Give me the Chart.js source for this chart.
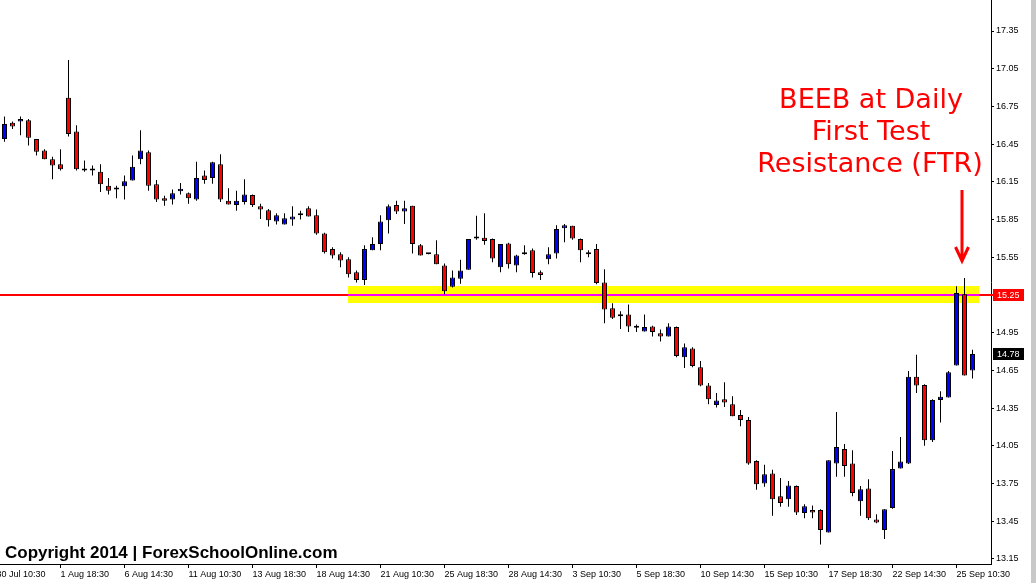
<!DOCTYPE html>
<html>
<head>
<meta charset="utf-8">
<title>BEEB H4</title>
<script src="https://cdn.jsdelivr.net/npm/chart.js@4.4.1/dist/chart.umd.min.js"></script>
<style>
html, body { margin: 0; padding: 0; background: #fff; }
</style>
</head>
<body>
<canvas id="myChart" width="1036" height="583"></canvas>
<script>
// candles, one per bar
var opens = [16.49,16.62,16.63,16.64,16.49,16.40,16.33,16.29,16.82,16.55,16.245,16.24,16.23,16.12,16.10,16.115,16.16,16.33,16.385,16.13,
  16.02,16.01,16.075,16.06,16.01,16.20,16.18,16.29,16.00,15.965,15.99,16.045,15.955,15.925,15.835,15.81,15.85,15.885,15.94,15.885,
  15.74,15.615,15.575,15.535,15.43,15.37,15.605,15.655,15.845,15.965,15.915,15.96,15.645,15.58,15.575,15.485,15.315,15.38,15.45,15.70,
  15.705,15.695,15.47,15.66,15.485,15.575,15.605,15.43,15.535,15.58,15.78,15.80,15.695,15.59,15.615,15.35,15.145,15.08,15.095,14.99,
  14.96,15.00,14.945,14.92,14.995,14.755,14.825,14.675,14.53,14.375,14.42,14.38,14.295,14.255,13.93,13.75,13.83,13.65,13.625,13.73,
  13.515,13.54,13.54,13.36,13.91,14.025,13.91,13.61,13.71,13.465,13.38,13.555,13.87,13.91,14.60,14.535,14.095,14.415,14.435,14.69,
  15.255,14.65];
var highs = [16.67,16.63,16.67,16.65,16.49,16.41,16.35,16.41,17.12,16.60,16.32,16.28,16.29,16.18,16.12,16.20,16.36,16.56,16.40,16.165,
  16.04,16.09,16.14,16.065,16.31,16.24,16.31,16.37,16.10,16.08,16.17,16.05,15.975,15.935,15.90,15.90,15.955,15.92,15.955,15.93,
  15.745,15.63,15.59,15.55,15.445,15.645,15.71,15.885,15.97,16.00,16.00,15.96,15.655,15.58,15.685,15.50,15.445,15.53,15.695,15.88,
  15.90,15.70,15.655,15.665,15.57,15.645,15.62,15.445,15.63,15.805,15.815,15.80,15.70,15.605,15.655,15.455,15.185,15.12,15.175,15.015,
  15.095,15.005,14.975,15.025,15.00,14.865,14.835,14.725,14.55,14.47,14.555,14.445,14.335,14.28,13.935,13.90,13.86,13.795,13.77,13.735,
  13.585,13.575,13.545,13.935,14.32,14.065,14.015,13.73,13.785,13.505,13.545,14.01,14.12,14.645,14.775,14.54,14.42,14.485,14.645,15.32,
  15.385,14.815];
var lows = [16.47,16.57,16.52,16.44,16.36,16.33,16.17,16.24,16.51,16.24,16.23,16.20,16.07,16.05,16.02,16.01,16.16,16.29,16.08,15.99,
  15.96,15.97,16.05,15.975,16.00,16.135,16.135,15.99,15.97,15.92,15.97,15.95,15.855,15.795,15.81,15.81,15.80,15.85,15.875,15.73,
  15.58,15.54,15.47,15.39,15.35,15.33,15.605,15.605,15.74,15.895,15.815,15.58,15.565,15.575,15.495,15.255,15.31,15.34,15.45,15.69,
  15.65,15.51,15.43,15.46,15.43,15.57,15.39,15.37,15.495,15.54,15.67,15.69,15.51,15.55,15.335,15.025,15.06,14.98,14.955,14.955,
  14.96,14.92,14.88,14.92,14.755,14.67,14.675,14.525,14.38,14.355,14.36,14.285,14.205,13.90,13.70,13.725,13.495,13.565,13.565,13.50,
  13.475,13.475,13.265,13.36,13.805,13.805,13.65,13.495,13.46,13.435,13.31,13.55,13.87,13.905,14.47,14.05,14.08,14.235,14.435,14.69,
  14.61,14.585];
var closes = [16.61,16.59,16.65,16.50,16.39,16.33,16.28,16.25,16.53,16.25,16.24,16.255,16.13,16.08,16.09,16.155,16.27,16.40,16.12,16.01,
  16.00,16.06,16.095,16.02,16.18,16.165,16.305,16.01,15.97,16.00,16.05,15.965,15.93,15.845,15.885,15.86,15.875,15.885,15.875,15.74,
  15.59,15.565,15.525,15.415,15.37,15.615,15.655,15.835,15.955,15.915,15.94,15.655,15.565,15.575,15.495,15.28,15.39,15.445,15.695,15.70,
  15.68,15.54,15.655,15.495,15.565,15.59,15.425,15.41,15.575,15.775,15.805,15.70,15.605,15.575,15.345,15.135,15.07,15.095,15.00,14.99,
  14.995,14.955,14.92,15.00,14.765,14.835,14.685,14.53,14.42,14.41,14.395,14.285,14.255,13.91,13.745,13.825,13.625,13.595,13.735,13.52,
  13.57,13.52,13.38,13.935,14.04,13.89,13.675,13.705,13.475,13.44,13.545,13.865,13.925,14.60,14.53,14.095,14.415,14.44,14.635,15.265,
  14.61,14.78];

// time axis: bar index of each label and its text
var timeIdx = [-1, 7, 15, 23, 31, 39, 47, 55, 63, 71, 79, 87, 95, 103, 111, 119];
var timeLabels = ['30 Jul 10:30', '1 Aug 18:30', '6 Aug 14:30', '11 Aug 10:30', '13 Aug 18:30', '18 Aug 14:30',
  '21 Aug 10:30', '25 Aug 18:30', '28 Aug 14:30', '3 Sep 10:30', '5 Sep 18:30', '10 Sep 14:30',
  '15 Sep 10:30', '17 Sep 18:30', '22 Sep 14:30', '25 Sep 10:30'];
var priceTicks = [13.15, 13.45, 13.75, 14.05, 14.35, 14.65, 14.95, 15.25, 15.55, 15.85, 16.15, 16.45, 16.75, 17.05, 17.35];

// resistance line and zone
var levelPrice = 15.25;
var zoneFrom = 42.94, zoneTo = 121.8, zoneTop = 15.32, zoneBottom = 15.185;

var xMin = -0.5625, xMax = xMin + 991 / 8;
var yMin = 13.1102, yMax = 17.5966;

var wicks = [], bodies = [], bodyColors = [];
for (var i = 0; i < opens.length; i++) {
    wicks.push({ x: i, y: [lows[i], highs[i]] });
    bodies.push({ x: i, y: [opens[i], closes[i]] });
    bodyColors.push(closes[i] > opens[i] ? '#0000ff' : '#ff0000');
}

var overlay = {
    id: 'overlay',
    beforeDraw: function (chart) {
        var c = chart.ctx;
        c.save();
        c.fillStyle = '#ffffff';
        c.fillRect(0, 0, chart.width, chart.height);
        c.fillStyle = '#c8c8c8';
        c.fillRect(1031, 0, 5, chart.height);
        c.restore();
    },
    beforeDatasetsDraw: function (chart) {
        var c = chart.ctx, xs = chart.scales.x, ys = chart.scales.y;
        var x0 = Math.round(xs.getPixelForValue(zoneFrom)), x1 = Math.round(xs.getPixelForValue(zoneTo));
        var y0 = Math.round(ys.getPixelForValue(zoneTop)), y1 = Math.round(ys.getPixelForValue(zoneBottom));
        var ly = Math.round(ys.getPixelForValue(levelPrice));
        c.save();
        c.fillStyle = '#ffff00';
        c.fillRect(x0, y0, x1 - x0, y1 - y0);
        c.fillStyle = '#ff0000';
        c.fillRect(0, ly - 1, chart.chartArea.right + 2, 2);
        c.fillStyle = '#ff00ff';
        c.fillRect(x0, ly - 1, x1 - x0, 2);
        c.restore();
    },
    afterDraw: function (chart) {
        var c = chart.ctx, ys = chart.scales.y;
        var left = chart.chartArea.right + 2;
        c.save();
        // price boxes on the axis
        c.font = '9px "Liberation Sans"';
        c.textBaseline = 'middle';
        c.textAlign = 'left';
        var ly = Math.round(ys.getPixelForValue(levelPrice));
        c.fillStyle = '#ff0000';
        c.fillRect(left, ly - 6, 31, 12);
        c.fillStyle = '#ffffff';
        c.fillText(levelPrice.toFixed(2), left + 4, ly + 0.5);
        var last = closes[closes.length - 1];
        var py = Math.round(ys.getPixelForValue(last));
        c.fillStyle = '#000000';
        c.fillRect(left, py - 6, 31, 12);
        c.fillStyle = '#ffffff';
        c.fillText(last.toFixed(2), left + 4, py + 0.5);

        // note and arrow
        c.fillStyle = '#ff0000';
        c.font = '27px "DejaVu Sans"';
        c.textAlign = 'center';
        c.textBaseline = 'alphabetic';
        c.fillText('BEEB at Daily', 871, 108);
        c.fillText('First Test', 871, 140);
        c.fillText('Resistance (FTR)', 870, 172);
        c.strokeStyle = '#ff0000';
        c.lineWidth = 3;
        c.beginPath();
        c.moveTo(962, 190);
        c.lineTo(962, 259);
        c.moveTo(955.5, 247);
        c.lineTo(962, 261);
        c.lineTo(968.5, 247);
        c.stroke();

        // copyright
        c.fillStyle = '#000000';
        c.font = 'bold 17px "Liberation Sans"';
        c.textAlign = 'left';
        c.fillText('Copyright 2014 | ForexSchoolOnline.com', 5, 558);
        c.restore();
    }
};

var ctx = document.getElementById('myChart').getContext('2d');
var myChart = new Chart(ctx, {
    type: 'bar',
    data: {
        datasets: [{
            label: 'body',
            data: bodies,
            backgroundColor: bodyColors,
            borderColor: '#000000',
            borderWidth: 1,
            borderSkipped: false,
            barThickness: 5,
            minBarLength: 2,
            inflateAmount: 0,
            grouped: false,
            order: 0
        }, {
            label: 'wick',
            data: wicks,
            backgroundColor: '#000000',
            borderWidth: 0,
            barThickness: 1,
            inflateAmount: 0,
            grouped: false,
            order: 1
        }]
    },
    options: {
        responsive: false,
        animation: false,
        layout: { padding: 0 },
        plugins: { legend: { display: false }, tooltip: { enabled: false } },
        scales: {
            x: {
                type: 'linear',
                min: xMin,
                max: xMax,
                bounds: 'data',
                offset: false,
                grid: { offset: false, drawOnChartArea: false, drawTicks: true, tickLength: 4, color: '#000000' },
                border: { display: true, color: '#000000', width: 1 },
                ticks: {
                    autoSkip: false,
                    maxRotation: 0,
                    minRotation: 0,
                    align: 'start',
                    padding: 1,
                    color: '#000000',
                    font: { family: 'Liberation Sans', size: 9 },
                    callback: function (v, i) { return timeLabels[i]; }
                },
                afterBuildTicks: function (axis) {
                    axis.ticks = timeIdx.map(function (v) { return { value: v }; });
                },
                afterFit: function (axis) {
                    axis.height = 19;
                    axis.paddingLeft = 0;
                    axis.paddingRight = 0;
                }
            },
            y: {
                position: 'right',
                min: yMin,
                max: yMax,
                beginAtZero: false,
                grid: { drawOnChartArea: false, drawTicks: true, tickLength: 3, color: '#000000' },
                border: { display: true, color: '#000000', width: 1 },
                ticks: {
                    padding: 2,
                    color: '#000000',
                    font: { family: 'Liberation Sans', size: 9 },
                    callback: function (v) { return v.toFixed(2); }
                },
                afterBuildTicks: function (axis) {
                    axis.ticks = priceTicks.map(function (v) { return { value: v }; });
                },
                afterFit: function (axis) {
                    axis.width = 45;
                    axis.paddingTop = 0;
                    axis.paddingBottom = 0;
                }
            }
        }
    },
    plugins: [overlay]
});
</script>
</body>
</html>
